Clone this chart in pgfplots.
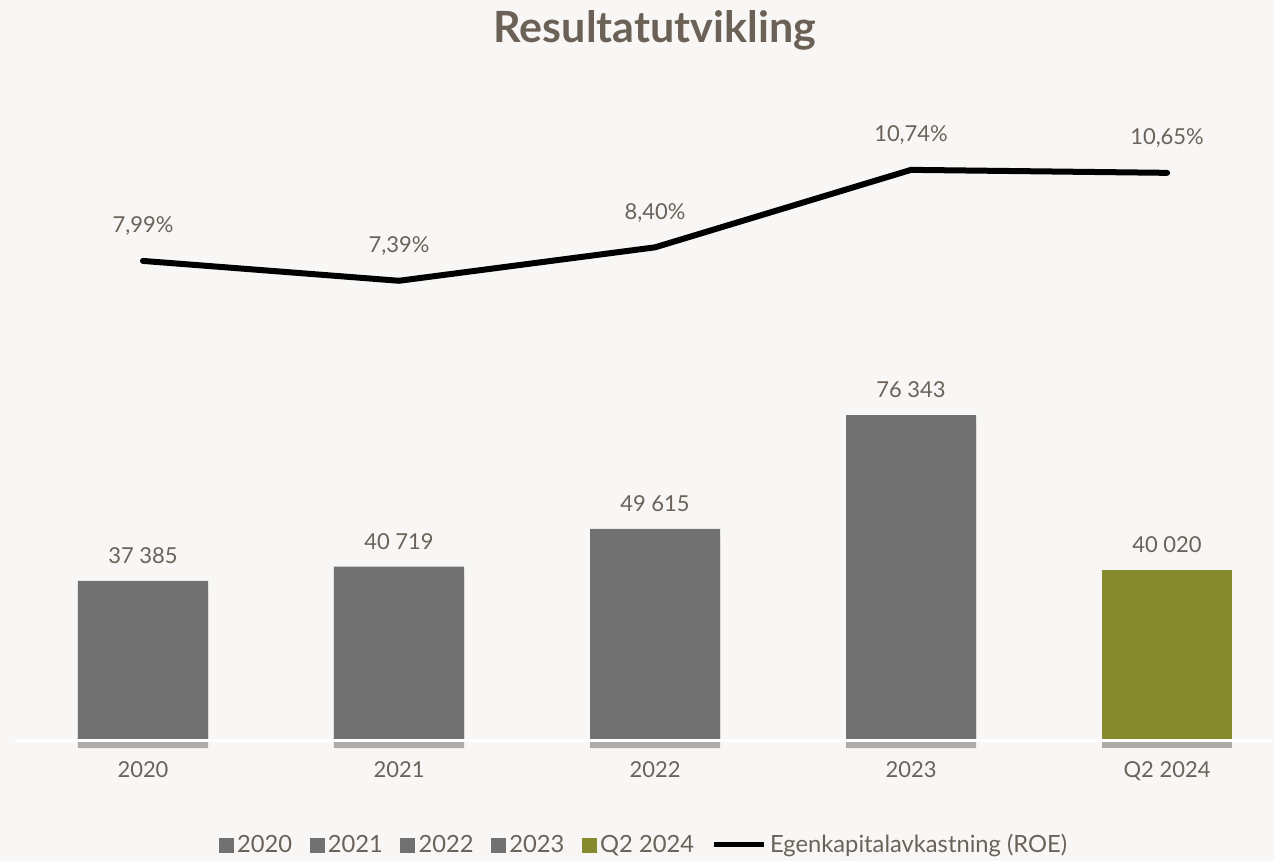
\documentclass[border=0pt]{standalone}
\usepackage{pgfplots}
\pgfplotsset{compat=1.18}
\usetikzlibrary{shadows}
\usepackage{fontspec}
\setmainfont{Lato}

\definecolor{bg}{HTML}{F8F7F5}
\definecolor{barg}{HTML}{707170}
\definecolor{olive}{HTML}{878B30}
\definecolor{txt}{HTML}{6B6259}
\definecolor{ttl}{HTML}{6B6157}

\begin{document}
\begin{tikzpicture}
  % 1 px of the reference = 0.2mm; axis box: x 15..1272 px, y 100..740 px
  \fill[bg, use as bounding box] (-3mm,-24.2mm) rectangle (251.8mm,148mm);

  \begin{axis}[
      at={(0,0)}, anchor=south west,
      scale only axis,
      width=251.4mm, height=128mm,
      xmin=-0.5, xmax=4.41,
      ymin=0, ymax=150340,
      clip=false,
      axis on top,
      axis x line*=bottom,
      x axis line style={white, line width=0.6mm, -},
      axis y line=none,
      xtick={0,1,2,3,4},
      xticklabels={2020,2021,2022,2023,Q2 2024},
      major tick length=0pt,
      xticklabel style={font=\fontsize{12.5}{14}\selectfont, text=txt, anchor=north, inner sep=0pt, yshift=-4.2mm},
      ybar, bar width=0.508, bar shift=0pt,
      point meta=explicit symbolic,
      nodes near coords,
      every node near coord/.append style={font=\fontsize{12.5}{14}\selectfont, text=txt, anchor=south, inner sep=0pt, yshift=3.4mm},
      title={\bfseries Resultatutvikling},
      title style={font=\fontsize{24.5}{28}\selectfont, text=ttl, at={(0.509,1.092)}, anchor=center},
    ]
    \addplot[fill=barg, draw=none,
      drop shadow={shadow xshift=0mm, shadow yshift=-1.6mm, opacity=0.3, fill=black}]
      coordinates {(0,37385)[37 385] (1,40719)[40 719] (2,49615)[49 615] (3,76343)[76 343]};
    \addplot[fill=olive, draw=none,
      drop shadow={shadow xshift=0mm, shadow yshift=-1.6mm, opacity=0.3, fill=black}]
      coordinates {(4,40020)[40 020]};
  \end{axis}

  \begin{axis}[
      at={(0,0)}, anchor=south west,
      scale only axis,
      width=251.4mm, height=128mm,
      xmin=-0.5, xmax=4.41,
      ymin=-6.48, ymax=12.85,
      hide axis,
      point meta=explicit symbolic,
      nodes near coords,
      every node near coord/.append style={font=\fontsize{12.5}{14}\selectfont, text=txt, anchor=south, inner sep=0pt, text depth=0pt, yshift=5mm},
      legend style={at={(0.501,-0.164)}, anchor=center, draw=none, fill=none,
        font=\fontsize{13.5}{15}\selectfont, text=txt, legend columns=6,
        /tikz/every even column/.append style={column sep=2.8mm}},
      legend cell align=left,
    ]
    \addplot[black, line width=1.2mm, line join=round, line cap=round, mark=none, forget plot]
      coordinates {(0,7.99)[7,99\%] (1,7.39)[7,39\%] (2,8.40)[8,40\%] (3,10.74)[10,74\%] (4,10.65)[10,65\%]};
    \addlegendimage{legend image code/.code={\fill[barg] (0mm,-1.4mm) rectangle (2.8mm,1.4mm);}}
    \addlegendentry{2020}
    \addlegendimage{legend image code/.code={\fill[barg] (0mm,-1.4mm) rectangle (2.8mm,1.4mm);}}
    \addlegendentry{2021}
    \addlegendimage{legend image code/.code={\fill[barg] (0mm,-1.4mm) rectangle (2.8mm,1.4mm);}}
    \addlegendentry{2022}
    \addlegendimage{legend image code/.code={\fill[barg] (0mm,-1.4mm) rectangle (2.8mm,1.4mm);}}
    \addlegendentry{2023}
    \addlegendimage{legend image code/.code={\fill[olive] (0mm,-1.4mm) rectangle (2.8mm,1.4mm);}}
    \addlegendentry{Q2 2024}
    \addlegendimage{legend image code/.code={\draw[black, line width=1mm] (6mm,0mm) -- (16mm,0mm);}}
    \addlegendentry{Egenkapitalavkastning (ROE)}
  \end{axis}
\end{tikzpicture}
\end{document}
